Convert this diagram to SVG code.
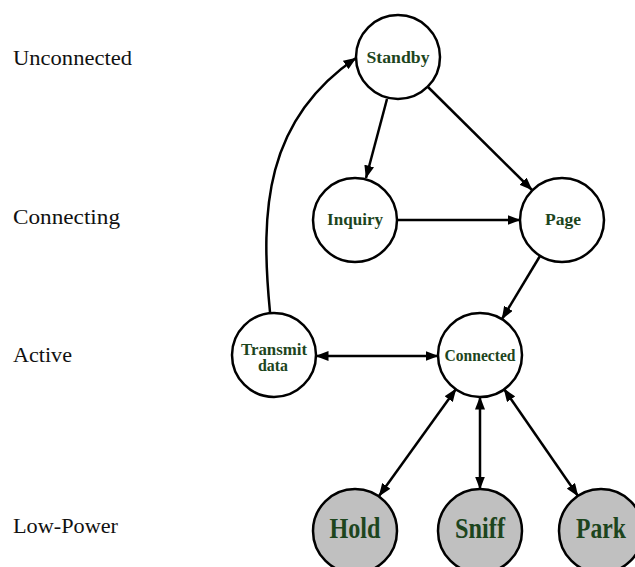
<svg xmlns="http://www.w3.org/2000/svg" width="635" height="567" viewBox="0 0 635 567">
  <defs>
    <marker id="arrow" viewBox="0 0 13 10" refX="12.5" refY="5" markerWidth="13" markerHeight="10" markerUnits="userSpaceOnUse" orient="auto-start-reverse">
      <path d="M0,0 L13,5 L0,10 z" fill="#000"/>
    </marker>
  </defs>
  <style>
    .layer { font-family: "Liberation Serif", "DejaVu Serif", serif; font-size: 21px; fill: #111; }
    .state circle { fill: #fff; stroke: #000; stroke-width: 2.5; }
    .state.low circle { fill: #c0c0c0; }
    .state text { font-family: "Liberation Serif", "DejaVu Serif", serif; font-weight: bold; fill: #1d451d; text-anchor: middle; }
    .small { font-size: 16px; }
    .big { font-size: 29px; }
    .edge { fill: none; stroke: #000; stroke-width: 2.5; }
  </style>

  <!-- layer labels -->
  <g id="layers" class="layer">
    <text x="13" y="65" textLength="119" lengthAdjust="spacingAndGlyphs">Unconnected</text>
    <text x="13" y="224" textLength="107" lengthAdjust="spacingAndGlyphs">Connecting</text>
    <text x="13" y="362" textLength="59" lengthAdjust="spacingAndGlyphs">Active</text>
    <text x="13" y="533" textLength="105" lengthAdjust="spacingAndGlyphs">Low-Power</text>
  </g>

  <!-- connectors -->
  <g id="edges">
    <line class="edge" x1="387" y1="99" x2="366" y2="178" marker-end="url(#arrow)"/>
    <line class="edge" x1="428" y1="87" x2="532" y2="190" marker-end="url(#arrow)"/>
    <line class="edge" x1="397" y1="220" x2="520" y2="220" marker-end="url(#arrow)"/>
    <line class="edge" x1="540" y1="256" x2="502" y2="319" marker-end="url(#arrow)"/>
    <line class="edge" x1="316" y1="356" x2="438" y2="356" marker-start="url(#arrow)" marker-end="url(#arrow)"/>
    <path class="edge" d="M270,312 C260,210 265,120 356,58" marker-end="url(#arrow)"/>
    <line class="edge" x1="456" y1="389" x2="379" y2="496" marker-start="url(#arrow)" marker-end="url(#arrow)"/>
    <line class="edge" x1="480" y1="397" x2="480" y2="489" marker-start="url(#arrow)" marker-end="url(#arrow)"/>
    <line class="edge" x1="504" y1="389" x2="578" y2="496" marker-start="url(#arrow)" marker-end="url(#arrow)"/>
  </g>

  <!-- states -->
  <g id="standby" class="state">
    <circle cx="398" cy="57" r="42"/>
    <text class="small" x="398" y="63" textLength="63" lengthAdjust="spacingAndGlyphs">Standby</text>
  </g>
  <g id="inquiry" class="state">
    <circle cx="355" cy="220" r="42"/>
    <text class="small" x="355" y="225" textLength="56" lengthAdjust="spacingAndGlyphs">Inquiry</text>
  </g>
  <g id="page" class="state">
    <circle cx="562" cy="220" r="42"/>
    <text class="small" x="563" y="225" textLength="36" lengthAdjust="spacingAndGlyphs">Page</text>
  </g>
  <g id="transmit" class="state">
    <circle cx="274" cy="355" r="42"/>
    <text class="small" x="274" y="355" textLength="66" lengthAdjust="spacingAndGlyphs">Transmit</text>
    <text class="small" x="273" y="371" textLength="30" lengthAdjust="spacingAndGlyphs">data</text>
  </g>
  <g id="connected" class="state">
    <circle cx="480" cy="355" r="42"/>
    <text class="small" x="480" y="361" textLength="71" lengthAdjust="spacingAndGlyphs">Connected</text>
  </g>
  <g id="hold" class="state low">
    <circle cx="355" cy="531" r="42"/>
    <text class="big" x="355" y="538" textLength="51" lengthAdjust="spacingAndGlyphs">Hold</text>
  </g>
  <g id="sniff" class="state low">
    <circle cx="480" cy="531" r="42"/>
    <text class="big" x="480" y="538" textLength="50" lengthAdjust="spacingAndGlyphs">Sniff</text>
  </g>
  <g id="park" class="state low">
    <circle cx="601" cy="531" r="42"/>
    <text class="big" x="601" y="538" textLength="50" lengthAdjust="spacingAndGlyphs">Park</text>
  </g>
</svg>
